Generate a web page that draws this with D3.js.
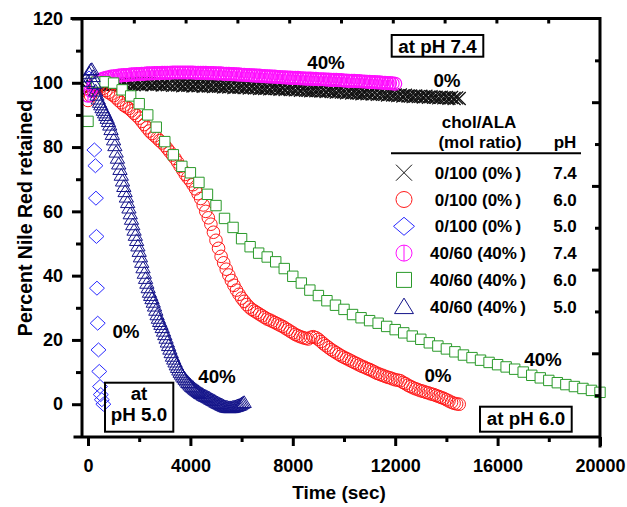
<!DOCTYPE html>
<html>
<head>
<meta charset="utf-8">
<script src="https://cdn.jsdelivr.net/npm/d3@7"></script>
<style>
  body { margin: 0; background: #fff; }
  text { font-family: "Liberation Sans", Arial, Helvetica, sans-serif; font-weight: bold; fill: #000; }
</style>
</head>
<body>
<svg id="chart" width="627" height="507"></svg>
<script>
// ticks
const yTicks = [0, 20, 40, 60, 80, 100, 120]
const yMinor = [10, 30, 50, 70, 90, 110]
const xTicks = [0, 4000, 8000, 12000, 16000, 20000]
const xMinor = [2000, 6000, 10000, 14000, 18000]

// 0/100 (0%) pH 7.4 -- every 100 s from 0 to 14500
const chol0pH74 = [
  98.0, 98.5, 98.9, 99.1, 99.3, 99.5, 99.3, 99.6, 99.4, 99.7,
  99.5, 99.8, 99.6, 99.4, 99.7, 99.5, 99.8, 99.6, 99.4, 99.7,
  99.6, 99.4, 99.8, 99.6, 99.7, 99.4, 99.7, 99.5, 99.6, 99.3,
  99.6, 99.4, 99.5, 99.2, 99.5, 99.3, 99.4, 99.1, 99.4, 99.2,
  99.3, 99.0, 99.3, 99.1, 99.2, 98.9, 99.2, 99.0, 99.1, 98.8,
  99.1, 98.9, 99.0, 98.7, 98.9, 98.7, 98.8, 98.5, 98.8, 98.6,
  98.7, 98.5, 98.7, 98.4, 98.6, 98.4, 98.5, 98.2, 98.4, 98.2,
  98.4, 98.1, 98.4, 98.2, 98.2, 98.0, 98.2, 97.9, 98.1, 97.9,
  98.0, 97.8, 98.0, 97.7, 97.9, 97.7, 97.7, 97.5, 97.7, 97.5,
  97.6, 97.4, 97.6, 97.3, 97.5, 97.3, 97.3, 97.1, 97.3, 97.1,
  97.1, 96.9, 97.1, 96.8, 97.0, 96.8, 96.8, 96.6, 96.8, 96.6,
  96.7, 96.5, 96.7, 96.4, 96.6, 96.4, 96.4, 96.2, 96.4, 96.2,
  96.2, 96.0, 96.2, 95.9, 96.1, 95.9, 95.9, 95.7, 95.9, 95.7,
  95.8, 95.6, 95.8, 95.5, 95.7, 95.5, 95.5, 95.3, 95.5, 95.3,
  95.4, 95.2, 95.4, 95.1, 95.3, 95.1
]
// 0/100 (0%) pH 6.0 -- every 100 s from 0 to 14500
const chol0pH60 = [
  94.5, 96.0, 97.5, 98.5, 99.0, 98.8, 98.3, 97.6, 97.0, 96.5,
  96.0, 95.3, 94.5, 93.8, 93.0, 92.5, 92.0, 91.3, 90.5, 89.8,
  89.0, 88.0, 87.0, 86.0, 85.0, 84.2, 83.5, 82.8, 82.0, 81.3,
  80.5, 79.5, 78.5, 77.5, 76.5, 75.3, 74.0, 72.8, 71.5, 70.5,
  69.5, 68.3, 67.0, 65.5, 64.0, 62.0, 60.0, 58.0, 56.0, 53.5,
  51.0, 48.5, 46.0, 44.0, 42.0, 40.2, 38.5, 37.0, 35.5, 34.2,
  33.0, 32.0, 31.0, 30.2, 29.5, 29.0, 28.5, 28.0, 27.5, 27.0,
  26.5, 26.2, 25.8, 25.4, 25.0, 24.6, 24.2, 23.7, 23.2, 22.7,
  22.2, 21.7, 21.3, 21.0, 20.7, 20.5, 20.3, 20.8, 21.0, 20.7,
  20.2, 19.5, 18.8, 18.2, 17.6, 17.0, 16.5, 16.0, 15.5, 15.0,
  14.6, 14.2, 13.8, 13.4, 13.0, 12.6, 12.2, 11.8, 11.5, 11.1,
  10.8, 10.4, 10.0, 9.6, 9.3, 9.0, 8.7, 8.4, 8.2, 7.9,
  7.6, 7.5, 7.3, 6.8, 6.4, 5.9, 5.5, 5.1, 4.8, 4.5,
  4.2, 4.0, 3.7, 3.5, 3.2, 3.0, 2.7, 2.4, 2.1, 1.8,
  1.4, 1.0, 0.6, 0.3, 0.1, 0.0
]
// 0/100 (0%) pH 5.0 -- few points
const chol0pH50Time = [40, 250, 290, 310, 330, 350, 380, 410, 440, 470, 500, 540, 600]
const chol0pH50 = [101.5, 79.1, 74.2, 64.1, 52.2, 36.1, 25.2, 16.9, 10.2, 5.5, 3.0, 1.4, 0.0]
// 40/60 (40%) pH 7.4 -- every 100 s from 0 to 12000
const chol40pH74 = [
  96.0, 97.5, 99.0, 100.0, 100.6, 101.0, 101.3, 101.5, 101.7, 101.9,
  102.0, 102.1, 102.2, 102.3, 102.4, 102.4, 102.5, 102.6, 102.6, 102.7,
  102.7, 102.8, 102.8, 102.9, 102.9, 102.9, 103.0, 103.0, 103.0, 103.1,
  103.1, 103.1, 103.1, 103.2, 103.2, 103.2, 103.2, 103.2, 103.2, 103.2,
  103.2, 103.2, 103.1, 103.1, 103.1, 103.1, 103.1, 103.0, 103.0, 103.0,
  102.9, 102.9, 102.9, 102.8, 102.8, 102.8, 102.7, 102.7, 102.6, 102.6,
  102.5, 102.5, 102.4, 102.4, 102.3, 102.3, 102.2, 102.2, 102.1, 102.1,
  102.0, 102.0, 101.9, 101.9, 101.8, 101.8, 101.7, 101.7, 101.6, 101.6,
  101.5, 101.5, 101.5, 101.4, 101.4, 101.3, 101.3, 101.3, 101.2, 101.2,
  101.1, 101.1, 101.1, 101.0, 101.0, 100.9, 100.9, 100.9, 100.8, 100.8,
  100.7, 100.7, 100.6, 100.6, 100.6, 100.5, 100.5, 100.4, 100.4, 100.3,
  100.3, 100.2, 100.2, 100.1, 100.1, 100.0, 100.0, 99.9, 99.9, 99.8,
  99.7
]
// 40/60 (40%) pH 6.0 -- 61 points over 0..20000 s
const chol40pH60 = [
  88.0, 100.2, 100.3, 99.9, 97.8, 95.9, 93.5, 90.0, 86.2, 81.7,
  77.6, 74.0, 72.0, 69.0, 65.3, 61.8, 57.8, 55.0, 51.5, 49.0,
  47.0, 45.8, 44.3, 42.2, 39.8, 37.7, 35.5, 33.8, 32.2, 30.8,
  29.5, 27.9, 26.9, 26.0, 25.2, 24.2, 23.2, 22.2, 21.2, 20.2,
  19.1, 18.1, 17.2, 16.3, 15.3, 14.5, 13.7, 13.0, 12.3, 11.6,
  10.9, 10.0, 9.0, 8.2, 7.4, 6.7, 6.1, 5.5, 4.9, 4.3,
  3.7
]
// 40/60 (40%) pH 5.0 -- every 50 s from 0 to 6100
const chol40pH50 = [
  100.5, 103.0, 104.0, 104.2, 102.0, 99.8, 97.5, 96.2, 95.0, 94.0,
  93.2, 92.3, 91.5, 90.7, 89.9, 89.0, 88.0, 86.9, 85.5, 84.0,
  82.3, 80.5, 78.5, 76.6, 74.8, 73.1, 71.3, 69.5, 67.8, 66.2,
  64.5, 62.8, 61.1, 59.3, 57.6, 55.9, 54.2, 52.6, 51.0, 49.3,
  47.6, 45.9, 44.2, 42.5, 40.8, 39.2, 37.7, 36.3, 34.9, 33.9,
  32.9, 31.8, 30.6, 29.3, 27.9, 26.8, 25.8, 24.9, 23.9, 22.8,
  21.7, 20.6, 19.4, 18.3, 17.2, 16.1, 15.0, 14.1, 13.2, 12.3,
  11.5, 10.7, 10.0, 9.4, 8.8, 8.3, 7.8, 7.3, 6.8, 6.4,
  6.0, 5.6, 5.3, 4.9, 4.6, 4.3, 4.0, 3.7, 3.4, 3.2,
  2.9, 2.7, 2.5, 2.3, 2.1, 1.9, 1.6, 1.4, 1.2, 1.0,
  0.7, 0.5, 0.3, 0.1, -0.1, -0.3, -0.5, -0.7, -0.8, -0.9,
  -1.0, -1.0, -1.0, -0.9, -0.8, -0.7, -0.6, -0.4, -0.3, -0.1,
  0.2, 0.4, 0.6
]

const legendRatio = ['0/100 (0%\u2009)', '0/100 (0%\u2009)', '0/100 (0%\u2009)', '40/60 (40%\u2009)', '40/60 (40%\u2009)', '40/60 (40%\u2009)']
const legendPH = ['7.4', '6.0', '5.0', '7.4', '6.0', '5.0']

// marker shapes
const shapeX = s => `M${-s},${-s}L${s},${s}M${-s},${s}L${s},${-s}`
const shapeCircle = r => `M${r},0A${r},${r} 0 1,1 ${-r},0A${r},${r} 0 1,1 ${r},0Z`
const shapeCircleBar = r => shapeCircle(r) + `M0,${-r}V${r}`
const shapeDiamond = (sx, sy) => `M0,${-sy}L${sx},0L0,${sy}L${-sx},0Z`
const shapeSquare = s => `M${-s},${-s}H${s}V${s}H${-s}Z`
const shapeTriangle = s => `M0,${-s}L${s * 1.1},${s * 0.8}L${-s * 1.1},${s * 0.8}Z`

const series = [
  { pts: chol0pH74.map((v, i) => [i * 100, v]), color: '#111', fill: 'none', sw: 1.3, d: shapeX(6.5), ld: shapeX(8) },
  { pts: chol0pH60.map((v, i) => [i * 100, v]), color: '#ff1a1a', fill: 'none', sw: 1, d: shapeCircle(6.3), ld: shapeCircle(8) },
  { pts: chol0pH50.map((v, i) => [chol0pH50Time[i], v]), color: '#2a2aff', fill: 'none', sw: 1, d: shapeDiamond(7.5, 7), ld: shapeDiamond(10.5, 9) },
  { pts: chol40pH74.map((v, i) => [i * 100, v]), color: '#ff10ff', fill: 'none', sw: 1.2, d: shapeCircleBar(6.5), ld: shapeCircleBar(8) },
  { pts: chol40pH60.map((v, i) => [i * 20000 / 60, v]), color: '#2a9a2a', fill: '#fff', sw: 1, d: shapeSquare(5.2), ld: shapeSquare(7.5) },
  { pts: chol40pH50.map((v, i) => [i * 50, v]), color: '#14148a', fill: 'none', sw: 1, d: shapeTriangle(6.5), ld: shapeTriangle(8.6) }
]

const svg = d3.select('#chart')
const x = d3.scaleLinear().domain([-234, 20000]).range([82, 600])
const y = d3.scaleLinear().domain([-10.2, 120]).range([437, 18.5])
const xTop = d3.scaleLinear().domain([0, 10]).range([82, 600])
const yRight = d3.scaleLinear().domain([0, 10]).range([437, 18.5])

// data
series.forEach(s => {
  svg.append('g')
    .selectAll('path').data(s.pts).join('path')
    .attr('transform', d => `translate(${x(d[0])},${y(d[1])})`)
    .attr('d', s.d)
    .attr('fill', s.fill)
    .attr('stroke', s.color)
    .attr('stroke-width', s.sw)
})

// axes
const styleAxis = g => {
  g.select('.domain').remove()
  g.selectAll('.tick line').attr('stroke', '#000').attr('stroke-width', 3)
  g.selectAll('.tick text').attr('font-size', 18).attr('fill', '#000')
}
svg.append('g').attr('transform', 'translate(82,0)')
  .call(d3.axisLeft(y).tickValues(yMinor).tickSize(6).tickFormat(''))
  .call(styleAxis)
svg.append('g').attr('transform', 'translate(82,0)')
  .call(d3.axisLeft(y).tickValues(yTicks).tickSize(10).tickPadding(9).tickFormat(d3.format('d')))
  .call(styleAxis)
svg.append('g').attr('transform', 'translate(0,437)')
  .call(d3.axisBottom(x).tickValues(xMinor).tickSize(5).tickFormat(''))
  .call(styleAxis)
svg.append('g').attr('transform', 'translate(0,437)')
  .call(d3.axisBottom(x).tickValues(xTicks).tickSize(9).tickPadding(13).tickFormat(d3.format('d')))
  .call(styleAxis)
svg.append('g').attr('transform', 'translate(0,18.5)')
  .call(d3.axisBottom(xTop).tickValues(d3.range(1, 10)).tickSize(5).tickFormat(''))
  .call(styleAxis)
svg.append('g').attr('transform', 'translate(600,0)')
  .call(d3.axisLeft(yRight).tickValues(d3.range(1, 10)).tickSize(5).tickFormat(''))
  .call(styleAxis)
  .selectAll('.tick line').attr('x2', d => d % 2 === 0 ? -8 : -5)

const frame = d3.path()
frame.moveTo(82, 18.5); frame.lineTo(82, 437)
frame.moveTo(72, 18.5); frame.lineTo(600, 18.5)
frame.moveTo(600, 18.5); frame.lineTo(600, 446)
frame.moveTo(75, 437); frame.lineTo(600, 437)
svg.append('path').attr('d', frame.toString())
  .attr('fill', 'none').attr('stroke', '#000').attr('stroke-width', 3).attr('stroke-linecap', 'square')

// axis titles
svg.append('text').attr('x', 339).attr('y', 499).attr('text-anchor', 'middle')
  .attr('font-size', 19).text('Time (sec)')
svg.append('text').attr('transform', 'translate(32,218) rotate(-90)').attr('text-anchor', 'middle')
  .attr('font-size', 19.5).text('Percent Nile Red retained')

// annotations
const notes = [
  ['40%', 326, 69], ['0%', 447, 86.5], ['0%', 126, 338],
  ['40%', 217, 383], ['40%', 543, 366], ['0%', 438, 381.5]
]
svg.append('g').selectAll('text').data(notes).join('text')
  .attr('x', d => d[1]).attr('y', d => d[2]).attr('text-anchor', 'middle')
  .attr('font-size', 18.8).text(d => d[0])

const boxes = [
  { r: [391.7, 35, 91.6, 21.7], lines: [['at pH 7.4', 437.5, 52.5]] },
  { r: [105, 382.7, 68.3, 49], lines: [['at', 139, 400], ['pH 5.0', 139, 421]] },
  { r: [480, 406.7, 91.7, 25], lines: [['at pH 6.0', 526, 425]] }
]
boxes.forEach(b => {
  svg.append('rect').attr('x', b.r[0]).attr('y', b.r[1]).attr('width', b.r[2]).attr('height', b.r[3])
    .attr('fill', 'none').attr('stroke', '#000').attr('stroke-width', 2)
  b.lines.forEach(l => {
    svg.append('text').attr('x', l[1]).attr('y', l[2]).attr('text-anchor', 'middle')
      .attr('font-size', 18.8).text(l[0])
  })
})

// legend
const lg = svg.append('g').attr('font-size', 17)
lg.append('text').attr('x', 479).attr('y', 127.7).attr('text-anchor', 'middle').text('chol/ALA')
lg.append('text').attr('x', 480).attr('y', 147.7).attr('text-anchor', 'middle').text('(mol ratio)')
lg.append('text').attr('x', 565).attr('y', 147.7).attr('text-anchor', 'middle').text('pH')
lg.append('line').attr('x1', 391).attr('x2', 581).attr('y1', 153.3).attr('y2', 153.3)
  .attr('stroke', '#000').attr('stroke-width', 2)
series.forEach((s, i) => {
  const ry = 172.7 + i * 26.8
  lg.append('path').attr('transform', `translate(404,${ry})`).attr('d', s.ld)
    .attr('fill', 'none').attr('stroke', s.color).attr('stroke-width', 1)
  lg.append('text').attr('x', 478).attr('y', ry + 6).attr('text-anchor', 'middle').text(legendRatio[i])
  lg.append('text').attr('x', 565).attr('y', ry + 6).attr('text-anchor', 'middle').text(legendPH[i])
})
</script>
</body>
</html>
